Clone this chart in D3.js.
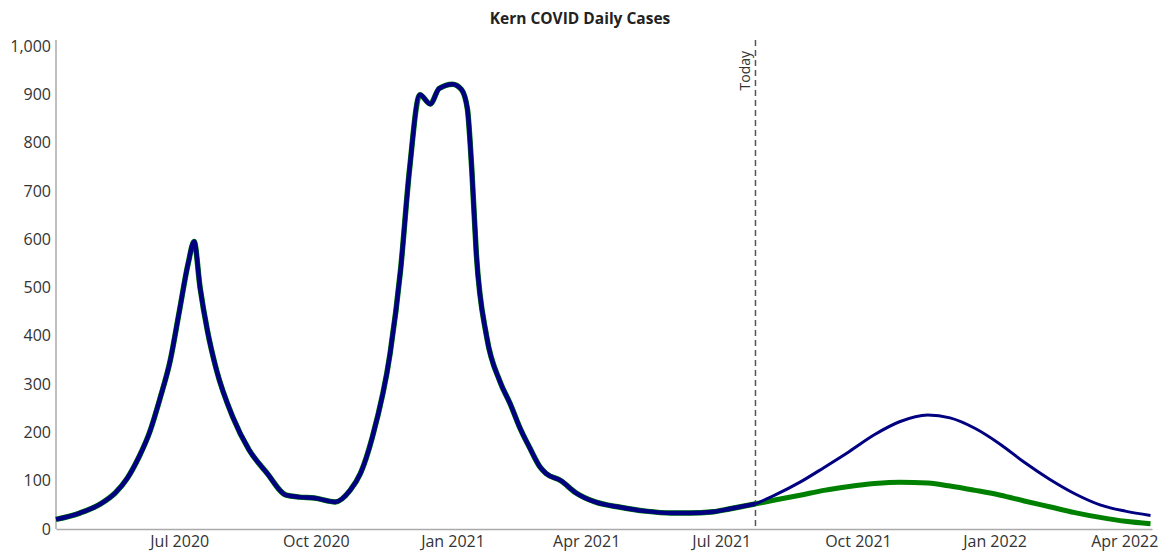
<!DOCTYPE html>
<html>
<head>
<meta charset="utf-8">
<script src="https://cdn.jsdelivr.net/npm/d3@7"></script>
<style>
  body { margin: 0; background: #fff; }
  text { font-family: "Open Sans", sans-serif; }
  .axis text { font-size: 16px; fill: #333; }
  .axis path { stroke: #aaa; stroke-width: 1.5; }
</style>
</head>
<body>
<svg id="chart" width="1159" height="554"></svg>
<script>
var obsDates = ["2020-04-09","2020-04-25","2020-05-09","2020-05-19","2020-05-27","2020-06-04","2020-06-11",
  "2020-06-18","2020-06-25","2020-07-01","2020-07-07","2020-07-11","2020-07-15","2020-07-20","2020-07-26",
  "2020-08-06","2020-08-17","2020-08-29","2020-09-11","2020-09-20","2020-09-30","2020-10-14","2020-10-24",
  "2020-10-31","2020-11-08","2020-11-20","2020-11-27","2020-12-03","2020-12-10","2020-12-17","2020-12-23",
  "2021-01-01","2021-01-07","2021-01-11","2021-01-14","2021-01-17","2021-01-24","2021-02-02","2021-02-09",
  "2021-02-15","2021-02-22","2021-03-01","2021-03-05","2021-03-15","2021-03-25","2021-04-07","2021-04-24",
  "2021-05-11","2021-05-28","2021-06-10","2021-06-24","2021-07-07","2021-07-24"];
var obsCases = [20, 33, 52, 75, 105, 150, 200,
  270, 350, 450, 550, 595, 500, 410, 330,
  232, 164, 116, 70, 66, 64, 56, 80,
  115, 190, 364, 536, 743, 899, 880, 912,
  921, 910, 870, 743, 571, 398, 305, 258,
  212, 168, 128, 115, 100, 75, 56, 45,
  37, 33, 33, 35, 42, 52];

// projections from today
var projDates = ["2021-07-24","2021-08-06","2021-08-23","2021-09-08","2021-09-25","2021-10-12","2021-10-29",
  "2021-11-17","2021-12-02","2021-12-19","2022-01-05","2022-01-21","2022-02-07","2022-02-24","2022-03-13",
  "2022-03-30","2022-04-16"];
var projHigh = [52, 70, 97, 127, 160, 195, 222, 236, 230, 208, 175, 138, 103, 73, 50, 37, 28];
var projLow = [52, 60, 70, 80, 88, 94, 97, 95, 89, 80, 70, 58, 46, 34, 24, 16, 11];

var todayDate = "2021-07-24";
var yTicks = [0, 100, 200, 300, 400, 500, 600, 700, 800, 900, 1000];

var parse = d3.timeParse("%Y-%m-%d");
var svg = d3.select("#chart");

var x = d3.scaleTime()
    .domain([parse("2020-04-09"), parse("2022-04-17")])
    .range([56, 1152]);

var y = d3.scaleLinear()
    .domain([0, 1000])
    .range([529, 46]);

function pts(dates, vals) {
  return dates.map(function(d, i) { return {date: parse(d), value: vals[i]}; });
}

var line = d3.line()
    .x(function(d) { return x(d.date); })
    .y(function(d) { return y(d.value); })
    .curve(d3.curveMonotoneX);

// title
svg.append("text")
    .attr("x", 580)
    .attr("y", 24)
    .attr("text-anchor", "middle")
    .style("font-size", "15.5px")
    .style("font-weight", "bold")
    .style("fill", "#222")
    .text("Kern COVID Daily Cases");

// axes
var xAxis = svg.append("g")
    .attr("class", "axis")
    .attr("transform", "translate(0,529)")
    .call(d3.axisBottom(x)
      .ticks(d3.timeMonth.every(3))
      .tickFormat(d3.timeFormat("%b %Y"))
      .tickSize(0)
      .tickPadding(7));

// keep the last label inside the frame
xAxis.selectAll(".tick:last-of-type text").attr("dx", -4);

svg.append("g")
    .attr("class", "axis")
    .attr("transform", "translate(56,0)")
    .call(d3.axisLeft(y)
      .tickValues(yTicks)
      .tickFormat(d3.format(","))
      .tickSize(0)
      .tickPadding(5))
    .select(".domain")
      .attr("d", "M0," + (y(1000) - 6) + "V" + y(0));

// today marker
var tx = x(parse(todayDate));
svg.append("line")
    .attr("x1", tx).attr("x2", tx)
    .attr("y1", 40).attr("y2", 529)
    .style("stroke", "#555")
    .style("stroke-width", 1.5)
    .style("stroke-dasharray", "6,4");

svg.append("text")
    .attr("transform", "translate(" + (tx - 5) + ",51) rotate(-90)")
    .attr("text-anchor", "end")
    .style("font-size", "14px")
    .style("fill", "#333")
    .text("Today");

// lines: green under navy
svg.append("path")
    .datum(pts(obsDates, obsCases))
    .attr("d", line)
    .style("fill", "none")
    .style("stroke", "green")
    .style("stroke-width", 5.5);

svg.append("path")
    .datum(pts(projDates, projLow))
    .attr("d", line)
    .style("fill", "none")
    .style("stroke", "green")
    .style("stroke-width", 5);

svg.append("path")
    .datum(pts(obsDates, obsCases))
    .attr("d", line)
    .style("fill", "none")
    .style("stroke", "navy")
    .style("stroke-width", 4.5)
    .style("stroke-linejoin", "round");

svg.append("path")
    .datum(pts(projDates, projHigh))
    .attr("d", line)
    .style("fill", "none")
    .style("stroke", "navy")
    .style("stroke-width", 3);
</script>
</body>
</html>
